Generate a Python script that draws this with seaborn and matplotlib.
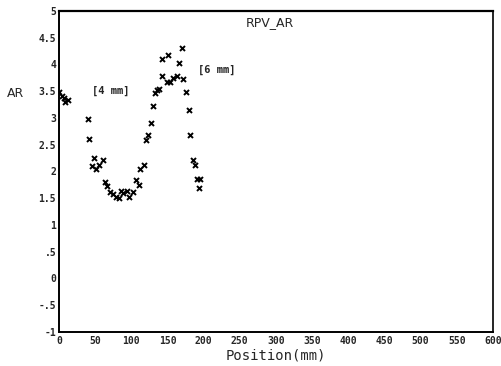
import matplotlib
matplotlib.use("Agg")
import matplotlib.pyplot as plt
import seaborn as sns
import pandas as pd
from matplotlib.ticker import MultipleLocator

position_mm = [0, 3.7, 7, 9, 13, 39.5, 42, 45.5, 49, 51, 55, 60.4, 64, 66.5, 70.7,
               75, 79, 82.7, 86, 89, 94, 96.7, 102, 107, 110, 112.5, 117, 120, 123,
               127, 130, 132.5, 135, 138.7, 142.7, 143, 148.8, 151, 153, 158, 163,
               166, 170, 172, 175.7, 179.5, 181, 185, 188, 191.5, 194, 195]
ar_values = [3.49, 3.41, 3.37, 3.29, 3.34, 2.98, 2.60, 2.11, 2.25, 2.04, 2.12, 2.21,
             1.81, 1.73, 1.62, 1.58, 1.52, 1.50, 1.64, 1.59, 1.64, 1.53, 1.62, 1.84,
             1.75, 2.05, 2.12, 2.59, 2.68, 2.90, 3.22, 3.47, 3.52, 3.55, 4.10, 3.78,
             3.68, 4.18, 3.68, 3.74, 3.79, 4.02, 4.30, 3.72, 3.49, 3.15, 2.68, 2.21,
             2.12, 1.85, 1.69, 1.85]
y_ticks = [5, 4.5, 4, 3.5, 3, 2.5, 2, 1.5, 1, 0.5, 0, -0.5, -1]
y_tick_labels = ["5", "4.5", "4", "3.5", "3", "2.5", "2", "1.5", "1", ".5", "0", "-.5", "-1"]
x_ticks = [0, 50, 100, 150, 200, 250, 300, 350, 400, 450, 500, 550, 600]
x_tick_labels = [str(v) for v in x_ticks]

df = pd.DataFrame({"Position": position_mm, "AR": ar_values})

sns.set_style("white")
plt.rcParams["font.family"] = ["DejaVu Sans Mono", "DejaVu Sans"]

fig = plt.figure(figsize=(5.02, 3.66), dpi=100)
ax = fig.add_axes([0.1175, 0.093, 0.8645, 0.877])

sns.scatterplot(data=df, x="Position", y="AR", marker="x", color="black",
                s=13, linewidth=1.4, ax=ax, legend=False)

ax.set_xlim(0, 600)
ax.set_ylim(-1, 5)
ax.set_xticks(x_ticks)
ax.set_xticklabels(x_tick_labels, fontsize=7, fontweight="bold")
ax.set_yticks(y_ticks)
ax.set_yticklabels(y_tick_labels, fontsize=7, fontweight="bold")
ax.xaxis.set_minor_locator(MultipleLocator(10))
ax.yaxis.set_minor_locator(MultipleLocator(0.1))
ax.tick_params(axis="both", which="major", direction="in", length=4, width=1,
               color="black", pad=2)
ax.tick_params(axis="both", which="minor", direction="in", length=2, width=0.8,
               color="black")
ax.tick_params(axis="x", pad=3)

for side, lw in [("left", 1.4), ("bottom", 1.4), ("right", 1.2), ("top", 1.6)]:
    ax.spines[side].set_visible(True)
    ax.spines[side].set_color("black")
    ax.spines[side].set_linewidth(lw)

ax.set_xlabel("Position(mm)", fontsize=10, labelpad=2)
ax.set_ylabel("")
fig.text(0.014, 0.745, "AR", fontsize=9, ha="left", va="center",
         family=["DejaVu Sans", "DejaVu Sans Mono"])
ax.text(0.485, 0.985, "RPV_AR", transform=ax.transAxes, fontsize=9,
        ha="center", va="top", family=["DejaVu Sans"])
ax.text(45, 3.5, "[4 mm]", fontsize=7.5, fontweight="bold", ha="left", va="center")
ax.text(192, 3.9, "[6 mm]", fontsize=7.5, fontweight="bold", ha="left", va="center")

fig.savefig("out.png", dpi=100)
